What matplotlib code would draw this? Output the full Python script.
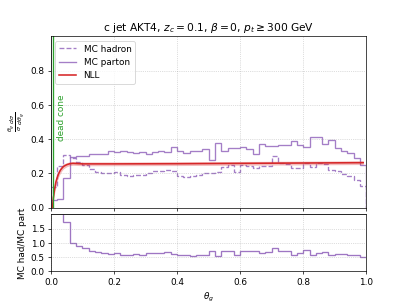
import numpy as np
import matplotlib
matplotlib.use("Agg")
import matplotlib.pyplot as plt

# theta_g bins, 50 bins of width 0.02
bin_edges = np.linspace(0.0, 1.0, 51)

mc_parton = [0.045, 0.047, 0.175, 0.296, 0.30, 0.30, 0.31, 0.31, 0.31, 0.333,
             0.325, 0.333, 0.325, 0.32, 0.325, 0.31, 0.325, 0.33, 0.325, 0.353,
             0.33, 0.32, 0.333, 0.33, 0.34, 0.28, 0.378, 0.333, 0.345, 0.35,
             0.353, 0.34, 0.314, 0.372, 0.36, 0.36, 0.368, 0.365, 0.388, 0.365,
             0.353, 0.41, 0.41, 0.372, 0.397, 0.35, 0.33, 0.32, 0.29, 0.25]

mc_hadron = [0.12, 0.245, 0.305, 0.29, 0.265, 0.25, 0.225, 0.21, 0.20, 0.20,
             0.205, 0.19, 0.185, 0.19, 0.19, 0.20, 0.215, 0.215, 0.22, 0.215,
             0.185, 0.18, 0.185, 0.19, 0.20, 0.20, 0.21, 0.235, 0.25, 0.205,
             0.25, 0.24, 0.23, 0.24, 0.245, 0.30, 0.26, 0.255, 0.23, 0.23,
             0.26, 0.235, 0.26, 0.255, 0.222, 0.215, 0.197, 0.183, 0.163, 0.125]

# NLL prediction with uncertainty band
nll_theta = [0.005, 0.008, 0.012, 0.016, 0.02, 0.025, 0.03, 0.035, 0.04, 0.05,
             0.06, 0.07, 0.08, 0.1, 0.2, 0.4, 0.6, 0.8, 0.99]
nll_central = [0.0, 0.06, 0.11, 0.15, 0.175, 0.20, 0.218, 0.23, 0.24, 0.25,
               0.256, 0.258, 0.257, 0.255, 0.255, 0.256, 0.258, 0.26, 0.262]
nll_low = [0.0, 0.04, 0.085, 0.125, 0.155, 0.18, 0.20, 0.215, 0.226, 0.238,
           0.245, 0.247, 0.246, 0.244, 0.244, 0.245, 0.247, 0.249, 0.251]
nll_high = [0.0, 0.08, 0.135, 0.17, 0.195, 0.218, 0.234, 0.245, 0.254, 0.262,
            0.267, 0.269, 0.268, 0.266, 0.266, 0.267, 0.269, 0.271, 0.273]

dead_cone = 0.008

ratio = np.array(mc_hadron) / np.array(mc_parton)

fig, (ax, rax) = plt.subplots(2, 1, figsize=(6.4, 4.8), sharex=True,
                              gridspec_kw={"height_ratios": [3, 1], "hspace": 0.06})

ax.axvline(0.0, color="gray", lw=2)
ax.stairs(mc_hadron, bin_edges, color="tab:purple", ls="--", lw=1.5, alpha=0.85, label="MC hadron")
ax.stairs(mc_parton, bin_edges, color="tab:purple", lw=1.5, alpha=0.85, label="MC parton")
ax.fill_between(nll_theta, nll_low, nll_high, color="tab:red", alpha=0.3, lw=0)
ax.plot(nll_theta, nll_central, color="tab:red", lw=1.8, label="NLL")
ax.axvline(dead_cone, color="tab:green", lw=1.5)
ax.text(0.02, 0.39, "dead cone", color="tab:green", rotation=90, ha="left", va="bottom")

ax.set_xlim(0, 1)
ax.set_ylim(0, 1)
ax.set_yticks([0.0, 0.2, 0.4, 0.6, 0.8])
ax.grid(ls=":", color="gray", alpha=0.5)
ax.set_ylabel(r"$\frac{\theta_g}{\sigma}\frac{d\sigma}{d\theta_g}$")
ax.set_title(r"c jet AKT4, $z_c = 0.1$, $\beta = 0$, $p_t \geq 300$ GeV")
ax.legend(loc="upper left")

rax.axhline(2.0, color="gray", lw=2)
rax.stairs(ratio, bin_edges, color="tab:purple", lw=1.5, alpha=0.9, baseline=None)
rax.set_ylim(0, 2)
rax.set_yticks([0.0, 0.5, 1.0, 1.5])
rax.grid(ls=":", color="gray", alpha=0.5)
rax.set_xlabel(r"$\theta_g$")
rax.set_ylabel("MC had/MC part")

plt.savefig("out.png", dpi=63.6)
